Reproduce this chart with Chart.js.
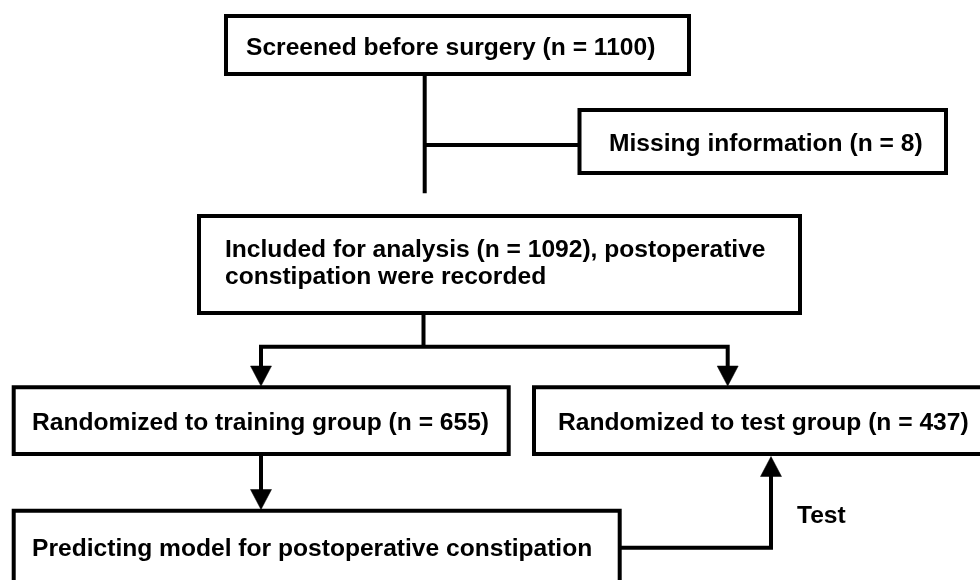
<!DOCTYPE html>
<html>
<head>
<meta charset="utf-8">
<script src="https://cdn.jsdelivr.net/npm/chart.js@4.4.1/dist/chart.umd.min.js"></script>
<style>
  html, body { margin: 0; padding: 0; background: #fff; overflow: hidden; }
  #wrap { width: 980px; height: 580px; position: relative; }
</style>
</head>
<body>
<div id="wrap"><canvas id="flowChart"></canvas></div>
<script>
// flow stages and their counts
const stageNames = [
  'Screened before surgery',
  'Missing information',
  'Included for analysis',
  'Randomized to training group',
  'Randomized to test group',
  'Predicting model for postoperative constipation'
];
const stageCounts = [1100, 8, 1092, 655, 437, null];
const edgeLabels = ['Test'];

// layout (canvas units, 1 unit = 1 px)
const boxes = [
  [226, 16, 689, 74],
  [579.5, 110, 946, 173],
  [199, 216, 800, 313],
  [13.7, 387.3, 508.7, 454],
  [534, 387.3, 985, 454],
  [13.7, 510.7, 619.7, 595]
];
const connectors = [
  [[424.7, 74], [424.7, 193.3]],
  [[424.7, 145], [579.5, 145]],
  [[423.5, 313], [423.5, 346.7]],
  [[261, 370], [261, 346.7], [727.7, 346.7], [727.7, 370]],
  [[261, 454], [261, 492]],
  [[619.7, 547.7], [771, 547.7], [771, 474]]
];
// arrow tips: [x, y, direction]
const arrows = [
  [261, 386, 'down'],
  [727.7, 386, 'down'],
  [261, 509.5, 'down'],
  [771, 456.5, 'up']
];

function stageText(i) {
  const n = stageCounts[i] == null ? '' : ' (n = ' + stageCounts[i] + ')';
  return stageNames[i] + n;
}

// text lines: [text, left x, baseline y]
const textLines = [
  [stageText(0), 246, 55],
  [stageText(1), 609, 151],
  [stageText(2) + ', postoperative', 225, 257],
  ['constipation were recorded', 225, 284],
  [stageText(3), 32, 430],
  [stageText(4), 558, 429.5],
  [stageText(5), 32, 556],
  [edgeLabels[0], 797, 523]
];

const LW = 4;
const datasets = [];

boxes.forEach(function (b) {
  const [x0, y0, x1, y1] = b;
  datasets.push({
    data: [{x: x0, y: y0}, {x: x1, y: y0}, {x: x1, y: y1}, {x: x0, y: y1}, {x: x0, y: y0}, {x: x1, y: y0}],
    borderColor: '#000',
    borderWidth: LW,
    borderJoinStyle: 'miter',
    backgroundColor: '#fff',
    fill: false,
    pointRadius: 0,
    tension: 0
  });
});

connectors.forEach(function (c) {
  datasets.push({
    data: c.map(function (p) { return {x: p[0], y: p[1]}; }),
    borderColor: '#000',
    borderWidth: LW,
    borderJoinStyle: 'miter',
    fill: false,
    pointRadius: 0,
    tension: 0
  });
});

arrows.forEach(function (a) {
  const [x, y, dir] = a;
  const h = 20, w = 10.5;
  const by = dir === 'down' ? y - h : y + h;
  datasets.push({
    data: [{x: x - w, y: by}, {x: x + w, y: by}, {x: x, y: y}, {x: x - w, y: by}],
    borderColor: '#000',
    borderWidth: 0.5,
    backgroundColor: '#000',
    fill: 'shape',
    pointRadius: 0,
    tension: 0
  });
});

const textPlugin = {
  id: 'boxText',
  afterDatasetsDraw(chart) {
    const ctx = chart.ctx;
    const xs = chart.scales.x, ys = chart.scales.y;
    ctx.save();
    ctx.fillStyle = '#000';
    ctx.font = 'bold 24.6px "Liberation Sans", Arial, sans-serif';
    ctx.textAlign = 'left';
    ctx.textBaseline = 'alphabetic';
    textLines.forEach(function (t) {
      ctx.fillText(t[0], xs.getPixelForValue(t[1]), ys.getPixelForValue(t[2]));
    });
    ctx.restore();
  }
};

new Chart(document.getElementById('flowChart'), {
  type: 'line',
  data: { datasets: datasets },
  options: {
    responsive: true,
    maintainAspectRatio: false,
    animation: false,
    events: [],
    layout: { padding: 0 },
    plugins: {
      legend: { display: false },
      tooltip: { enabled: false }
    },
    scales: {
      x: { type: 'linear', min: 0, max: 980, display: false },
      y: { type: 'linear', min: 0, max: 580, reverse: true, display: false }
    }
  },
  plugins: [textPlugin]
});
</script>
</body>
</html>
